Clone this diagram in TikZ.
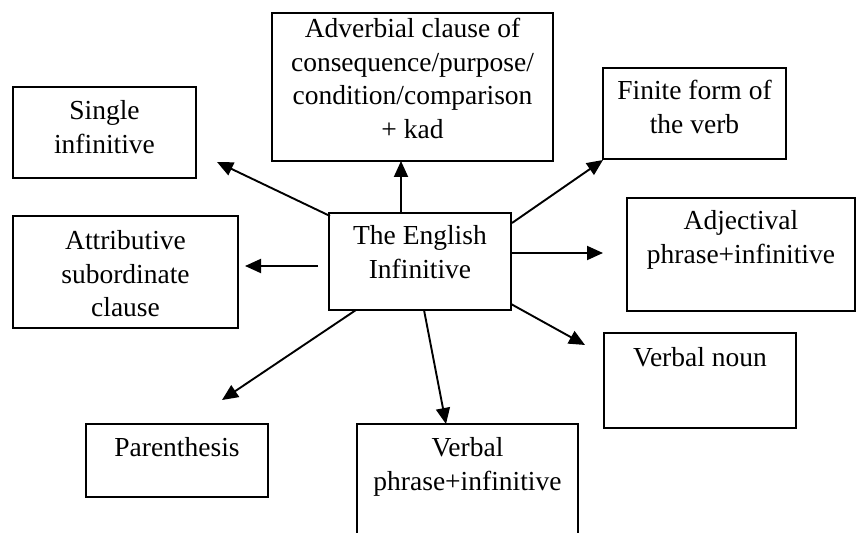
\documentclass[tikz,border=0pt]{standalone}
\usepackage{fontspec}
\setmainfont{Liberation Serif}
\usetikzlibrary{arrows.meta}
% one drawing unit = 0.5pt
\newlength\pxu
\setlength\pxu{0.5pt}
% boxed label: width, height, top padding, text (top aligned, centred)
\newcommand\boxlabel[4]{\parbox[c][#2\pxu][t]{#1\pxu}{\centering\vspace*{#3\pxu}\strut #4\par}}
\begin{document}
\begin{tikzpicture}[x=0.5pt,y=-0.5pt,
  box/.style={draw, line width=1pt, inner sep=0pt, outer sep=0pt,
    font=\fontsize{13.75}{16.75}\selectfont},
  arr/.style={line width=0.95pt, -{Triangle[length=8pt,width=7pt]}}]
\useasboundingbox (0,0) rectangle (856,533);

% central box
\node[box] (c) at (420,261.5) {\boxlabel{182}{97}{8.5}{The English\\Infinitive}};

% surrounding boxes
\node[box] (adv) at (412.5,87) {\boxlabel{281}{148}{1.5}{Adverbial clause of\\consequence/purpose/\\condition/comparison\\+ kad}};
\node[box] (single) at (104.5,132.5) {\boxlabel{183}{91}{9.5}{Single\\infinitive}};
\node[box] (attr) at (125.5,272) {\boxlabel{225}{112}{10.5}{Attributive\\subordinate\\clause}};
\node[box] (finite) at (694.5,113.5) {\boxlabel{183}{91}{8.5}{Finite form of\\the verb}};
\node[box] (adj) at (741,254.5) {\boxlabel{228}{113}{8.5}{Adjectival\\phrase+infinitive}};
\node[box] (vnoun) at (700,380.5) {\boxlabel{192}{95}{10.5}{Verbal noun}};
\node[box] (paren) at (177,460.5) {\boxlabel{182}{73}{9.5}{Parenthesis}};
\node[box] (vphrase) at (467.5,484.5) {\boxlabel{221}{121}{9.5}{Verbal\\phrase+infinitive}};

% connectors
\draw[arr] ([shift={(-19,0)}]c.north) -- ([shift={(-11.5,0)}]adv.south);
\draw[arr] ([shift={(1,3)}]c.north west) -- ([shift={(21,-16)}]single.south east);
\draw[arr] ([shift={(-11,4.5)}]c.west) -- ([shift={(7,-6)}]attr.east);
\draw[arr] ([shift={(1,10)}]c.north east) -- ([shift={(0,1)}]finite.south west);
\draw[arr] ([shift={(0,-8.5)}]c.east) -- ([shift={(-24,-1.5)}]adj.west);
\draw[arr] ([shift={(0,-6)}]c.south east) -- ([shift={(-19,12)}]vnoun.north west);
\draw[arr] ([shift={(27,0)}]c.south west) -- ([shift={(-46,-24)}]paren.north east);
\draw[arr] ([shift={(4,0)}]c.south) -- ([shift={(-21.5,0)}]vphrase.north);
\end{tikzpicture}
\end{document}
